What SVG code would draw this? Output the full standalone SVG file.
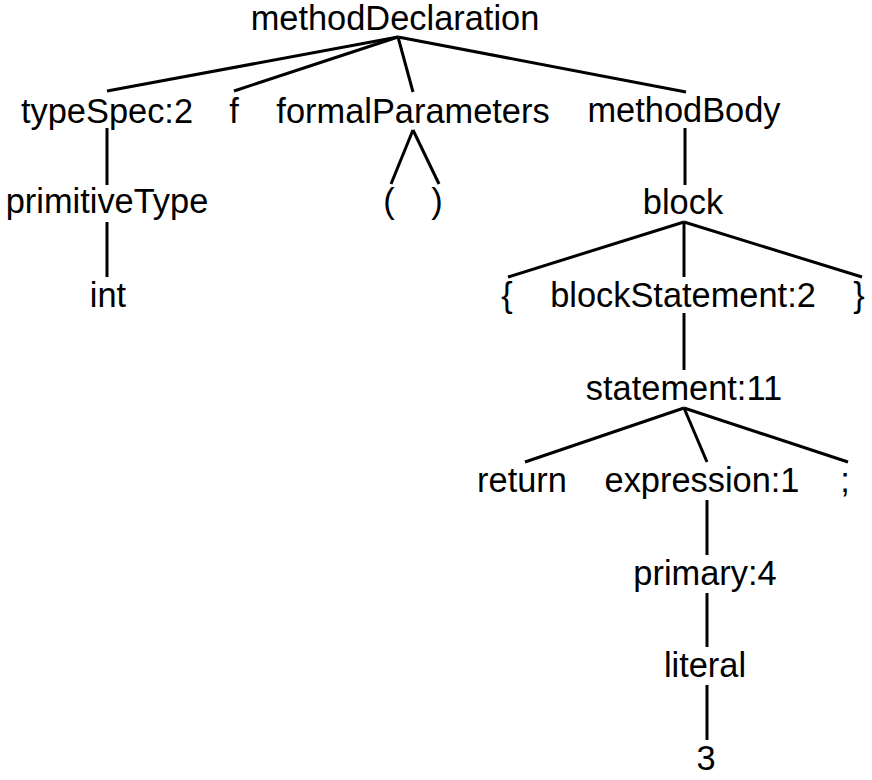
<svg xmlns="http://www.w3.org/2000/svg" width="872" height="780" viewBox="0 0 872 780">
<style>
  text { font-family: "Liberation Sans", Arial, Helvetica, sans-serif; font-size: 34.4px; fill: #000; text-anchor: middle; }
  .e { stroke: #000; stroke-width: 3; fill: none; stroke-linecap: butt; }
</style>
<rect width="872" height="780" fill="#fff"/>
<g id="connectors">
  <line class="e" x1="398" y1="37" x2="107" y2="91"/>
  <line class="e" x1="398" y1="37" x2="234" y2="91"/>
  <line class="e" x1="398" y1="37" x2="413" y2="92"/>
  <line class="e" x1="398" y1="37" x2="686" y2="92"/>
  <line class="e" x1="107" y1="128" x2="107" y2="185"/>
  <line class="e" x1="107" y1="222" x2="107" y2="277"/>
  <line class="e" x1="413" y1="130" x2="391" y2="184"/>
  <line class="e" x1="413" y1="130" x2="439" y2="184"/>
  <line class="e" x1="685" y1="128" x2="685" y2="185"/>
  <line class="e" x1="684" y1="222" x2="508" y2="277"/>
  <line class="e" x1="684" y1="222" x2="684" y2="277"/>
  <line class="e" x1="684" y1="222" x2="862" y2="277"/>
  <line class="e" x1="684" y1="313" x2="684" y2="370"/>
  <line class="e" x1="684" y1="408" x2="525" y2="462"/>
  <line class="e" x1="684" y1="408" x2="707" y2="462"/>
  <line class="e" x1="684" y1="408" x2="848" y2="462"/>
  <line class="e" x1="707" y1="500" x2="707" y2="555"/>
  <line class="e" x1="707" y1="593" x2="707" y2="647"/>
  <line class="e" x1="707" y1="685" x2="707" y2="740"/>
</g>
<g id="methodDeclaration"><text x="395" y="30">methodDeclaration</text></g>
<g id="typeSpec"><text x="107" y="123">typeSpec:2</text></g>
<g id="f"><text x="234" y="123">f</text></g>
<g id="formalParameters"><text x="413" y="123">formalParameters</text></g>
<g id="methodBody"><text x="684" y="122">methodBody</text></g>
<g id="primitiveType"><text x="107" y="213">primitiveType</text></g>
<g id="lparen"><text x="389" y="213">(</text></g>
<g id="rparen"><text x="437" y="213">)</text></g>
<g id="block"><text x="683" y="214">block</text></g>
<g id="int"><text x="108" y="307">int</text></g>
<g id="lbrace"><text x="507" y="307">{</text></g>
<g id="blockStatement"><text x="683" y="307">blockStatement:2</text></g>
<g id="rbrace"><text x="859" y="307">}</text></g>
<g id="statement"><text x="684" y="400">statement:11</text></g>
<g id="return"><text x="522" y="492">return</text></g>
<g id="expression"><text x="702" y="492">expression:1</text></g>
<g id="semicolon"><text x="845" y="492">;</text></g>
<g id="primary"><text x="705" y="585">primary:4</text></g>
<g id="literal"><text x="705" y="677">literal</text></g>
<g id="three"><text x="706" y="770">3</text></g>
</svg>
